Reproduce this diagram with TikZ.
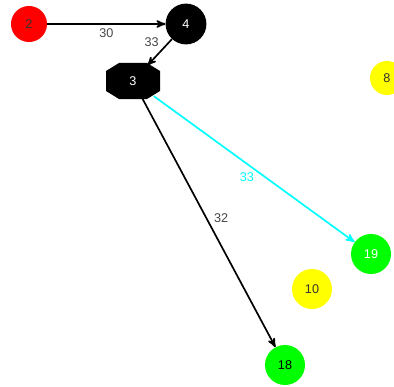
\documentclass[tikz,border=0pt]{standalone}
\usepackage{fontspec}
\setmainfont{Liberation Sans}
\usetikzlibrary{arrows,shapes.geometric}
\definecolor{labelgray}{RGB}{70,70,70}
\definecolor{nodered}{RGB}{255,0,0}
\definecolor{nodegreen}{RGB}{0,255,0}
\definecolor{nodeyellow}{RGB}{255,255,0}
\definecolor{edgecyan}{RGB}{0,255,255}
\tikzset{
>=stealth',
  vertex/.style={
    circle,
    minimum size=1cm,
    inner sep=0pt,
    font=\fontsize{9}{10}\selectfont},
  edge/.style={draw, line width=1.2pt, ->},
  weight/.style={font=\fontsize{9}{10}\selectfont, text=labelgray, inner sep=1pt},
}

\begin{document}
\begin{tikzpicture}[
    x=0.025cm, y=-0.025cm,
    red vertex/.style={vertex, fill=nodered, text=black!80, minimum size=0.9cm},
    black vertex/.style={vertex, fill=black, text=white},
    green vertex/.style={vertex, fill=nodegreen, text=black},
    yellow vertex/.style={vertex, fill=nodeyellow, text=black!80},
    octagon vertex/.style={vertex, ellipse, text=white,
        minimum width=1.35cm, minimum height=0.9cm}
    ]
    \useasboundingbox (0,0) rectangle (394,387);
    \clip (0,0) rectangle (394,387);

    % the octagon is filled first, the node on top of it
    \coordinate (c3) at (133,81);
    \fill[black] (c3) ++(-14,-18) -- ++(28,0) -- ++(13,8) -- ++(0,20)
        -- ++(-13,8) -- ++(-28,0) -- ++(-13,-8) -- ++(0,-20) -- cycle;

    \node[red vertex] (n2) at (29,24) {2};
    \node[black vertex, minimum size=1.02cm] (n4) at (186,24) {4};
    \node[octagon vertex] (n3) at (c3) {3};
    \node[yellow vertex, minimum size=0.85cm] (n8) at (387,78) {8};
    \node[green vertex, text=white] (n19) at (371,254) {19};
    \node[yellow vertex] (n10) at (312,289) {10};
    \node[green vertex] (n18) at (285,365) {18};

    \draw[edge] (n2) -- (n4) node[weight, midway, below=2pt] {30};
    \draw[edge] (n4) -- (n3) node[weight, pos=0.1, left=6pt] {33};
    \draw[edge, edgecyan, shorten <=2pt] (n3) -- (n19)
        node[weight, text=edgecyan, pos=0.47, below=5pt] {33};
    \draw[edge] (n3) -- (n18) node[weight, pos=0.48, right=4pt] {32};

\end{tikzpicture}
\end{document}
